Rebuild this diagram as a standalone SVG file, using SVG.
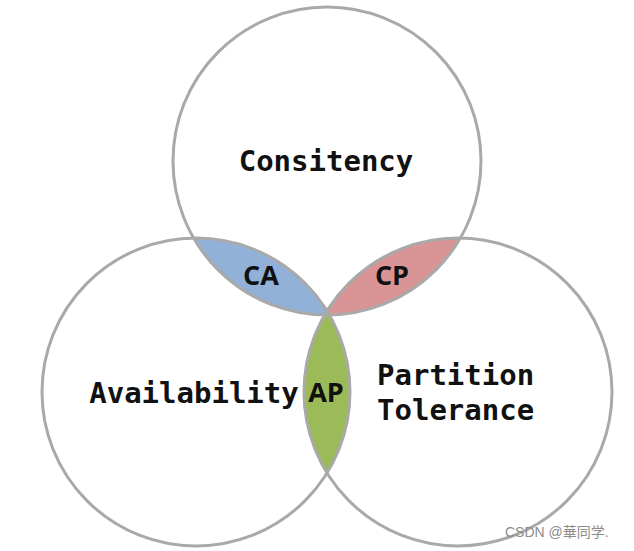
<svg xmlns="http://www.w3.org/2000/svg" width="634" height="551" viewBox="0 0 634 551">
<style>
.ring{fill:none;stroke:#a9a9a9;stroke-width:3}
.big{font-family:"DejaVu Sans Mono","Liberation Mono",monospace;font-weight:bold;font-size:29px;fill:#111}
.small{font-family:"Open Sans","Liberation Sans",sans-serif;font-weight:bold;font-size:27px;fill:#111;text-anchor:middle}
.wm{font-family:"Liberation Sans","Noto Sans CJK SC",sans-serif;font-size:14px;fill:#8c8c8c}
</style>
<defs>
<clipPath id="clipT"><circle cx="327" cy="161" r="154"/></clipPath>
<clipPath id="clipR"><circle cx="458" cy="392" r="154"/></clipPath>
</defs>
<rect width="634" height="551" fill="#fff"/>
<g id="lens-CA">
<circle cx="196" cy="392" r="154" fill="#92b1d8" clip-path="url(#clipT)"/>
</g>
<g id="lens-CP">
<circle cx="458" cy="392" r="154" fill="#d99595" clip-path="url(#clipT)"/>
</g>
<g id="lens-AP">
<circle cx="196" cy="392" r="154" fill="#9bbb59" clip-path="url(#clipR)"/>
</g>
<g id="consistency">
<circle class="ring" cx="327" cy="161" r="154"/>
<text class="big" x="326" y="171" text-anchor="middle">Consitency</text>
</g>
<g id="availability">
<circle class="ring" cx="196" cy="392" r="154"/>
<text class="big" x="194" y="403" text-anchor="middle">Availability</text>
</g>
<g id="partition">
<circle class="ring" cx="458" cy="392" r="154"/>
<text class="big" x="377" y="385">Partition</text>
<text class="big" x="377" y="420">Tolerance</text>
</g>
<g id="labels">
<text class="small" x="261" y="285">CA</text>
<text class="small" x="392" y="285">CP</text>
<text class="small" x="326" y="402">AP</text>
</g>
<text class="wm" x="505" y="537">CSDN @華同学.</text>
</svg>
